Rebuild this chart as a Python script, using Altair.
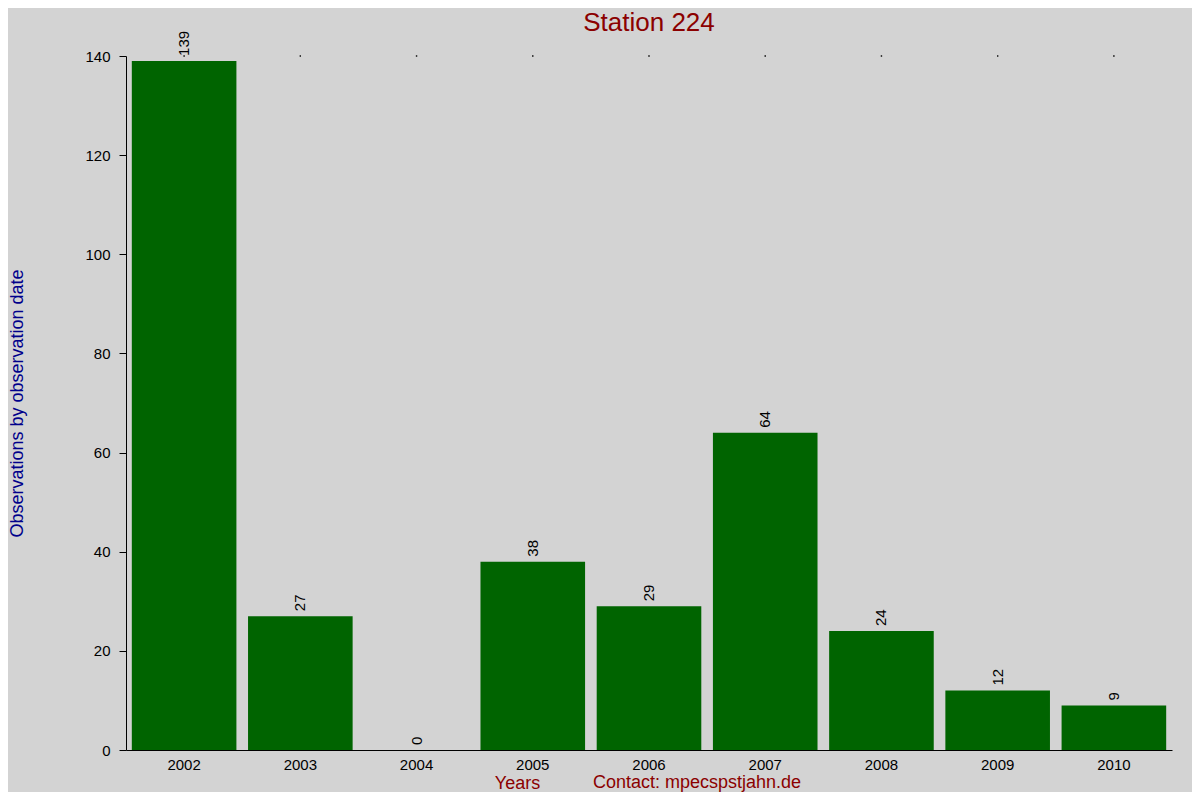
import altair as alt
import pandas as pd

years = ["2002", "2003", "2004", "2005", "2006", "2007", "2008", "2009", "2010"]
counts = [139, 27, 0, 38, 29, 64, 24, 12, 9]
y_ticks = [0, 20, 40, 60, 80, 100, 120, 140]
title_text = "Station 224"
y_title = "Observations by observation date"
x_title = "Years"
contact_text = "Contact: mpecspstjahn.de"

df = pd.DataFrame({"year": years, "count": counts})
FONT = "Liberation Sans"

x_enc = alt.X(
    "year:N",
    sort=years,
    scale=alt.Scale(paddingInner=0.1, paddingOuter=0.05),
    axis=alt.Axis(
        title=x_title,
        titleColor="#8B0000",
        titleFont=FONT,
        titleFontSize=18,
        titleFontWeight="normal",
        titleX=391,
        titleY=38,
        titleAlign="center",
        titleBaseline="alphabetic",
        labelAngle=0,
        labelFont=FONT,
        labelFontSize=15,
        labelColor="black",
        labelPadding=7,
        ticks=False,
        domainColor="black",
        domainWidth=1,
        grid=False,
    ),
)

y_enc = alt.Y(
    "count:Q",
    scale=alt.Scale(domain=[0, 140], nice=False),
    axis=alt.Axis(
        title=y_title,
        titleColor="#00008B",
        titleFont=FONT,
        titleFontSize=18,
        titleFontWeight="normal",
        titleAngle=270,
        titleX=-104,
        titleY=347,
        titleAlign="center",
        titleBaseline="alphabetic",
        values=y_ticks,
        labelFont=FONT,
        labelFontSize=15,
        labelColor="black",
        labelPadding=9,
        tickSize=7,
        tickColor="black",
        domainColor="black",
        domainWidth=1,
        grid=False,
    ),
)

base = alt.Chart(df)

bars = base.mark_bar(color="#006400").encode(x=x_enc, y=y_enc)

labels = base.mark_text(
    angle=270, align="left", baseline="middle", dx=5, fontSize=15, font=FONT, color="black"
).encode(x=alt.X("year:N", sort=years), y="count:Q", text="count:Q")

dots = base.mark_square(size=2, color="black", opacity=1).encode(
    x=alt.X("year:N", sort=years), y=alt.value(0)
)

contact = alt.Chart(pd.DataFrame({"t": [contact_text]})).mark_text(
    fontSize=18, font=FONT, color="#8B0000", align="center", baseline="alphabetic"
).encode(x=alt.value(571), y=alt.value(732), text="t:N")

title = alt.Chart(pd.DataFrame({"t": [title_text]})).mark_text(
    fontSize=26, font=FONT, color="#8B0000", align="center", baseline="alphabetic"
).encode(x=alt.value(523), y=alt.value(-25), text="t:N")

chart = (
    alt.layer(bars, labels, dots, contact, title)
    .properties(
        width=1046,
        height=694,
        background="#d3d3d3",
        padding={"left": 118, "top": 48, "right": 20, "bottom": 42},
        autosize=alt.AutoSizeParams(type="none"),
    )
    .configure_view(stroke=None)
)

chart.save("out.html", embed_options={"renderer": "svg", "actions": False})
